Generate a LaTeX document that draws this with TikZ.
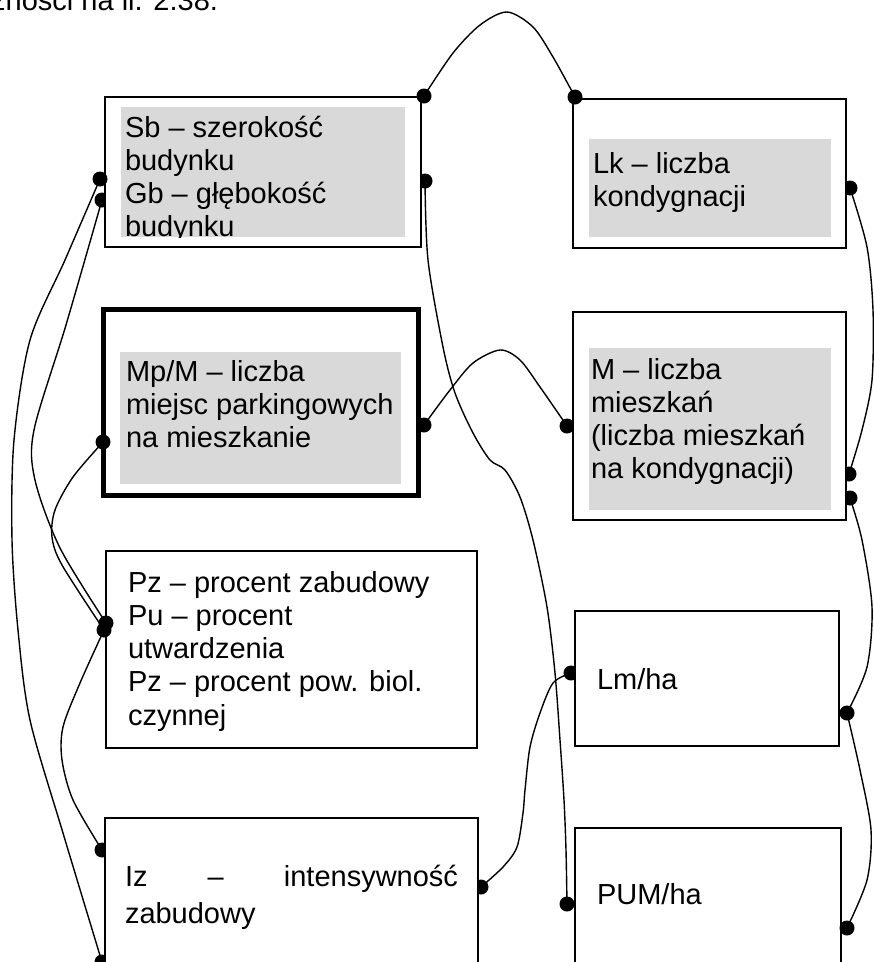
\documentclass[tikz,border=0pt]{standalone}
\usepackage{fontspec}
\setmainfont{Liberation Sans}
\definecolor{shadegray}{HTML}{D9D9D9}
\begin{document}
\begin{tikzpicture}[x=1pt,y=-1pt,
  txt/.style={font=\fontsize{29}{33.3}\selectfont, inner sep=0pt, outer sep=0pt, anchor=base west},
  boxframe/.style={draw=black, line width=1.6pt, fill=white, inner sep=0pt, outer sep=0pt, anchor=north west},
  boldframe/.style={boxframe, line width=5pt},
  shade/.style={fill=shadegray, draw=none},
  link/.style={line width=1.4pt, line join=round},
  pin/.style={fill=black},
]
\useasboundingbox (0,0) rectangle (874,962);

% caption line cut off at the top edge
\node[txt, anchor=base east] (caption) at (218,10) {zależności na il. 2.38.};

% connector end points
\coordinate (sbTR) at (424,96);
\coordinate (sbR)  at (425,181);
\coordinate (sbL1) at (100,179);
\coordinate (sbL2) at (102,200);
\coordinate (lkTL) at (575,97);
\coordinate (lkR)  at (850,188);
\coordinate (mpL)  at (103,442);
\coordinate (mpR)  at (424,425);
\coordinate (mL)   at (567,426);
\coordinate (mR1)  at (849,474);
\coordinate (mR2)  at (850,498);
\coordinate (pzA)  at (106,623);
\coordinate (pzB)  at (104,630);
\coordinate (lmL)  at (571,673);
\coordinate (lmR)  at (847,713);
\coordinate (izL1) at (102,850);
\coordinate (izL2) at (102,962);
\coordinate (izR)  at (481,887);
\coordinate (pumL) at (567,904);
\coordinate (pumR) at (847,928);

% connectors
\draw[link] plot[smooth] coordinates {(sbTR) (453,53) (480,25) (507,12) (533,27) (553,57) (lkTL)};
\draw[link] plot[smooth] coordinates {(sbR) (428,260) (443,347) (455,393) (473,433) (490,460) (505,470) (520,497) (533,540) (547,607) (555,673) (560,740) (564,800) (566,850) (pumL)};
\draw[link] plot[smooth] coordinates {(mpR) (450,390) (473,363) (500,350) (520,360) (540,387) (mL)};
\draw[link] plot[smooth] coordinates {(lmL) (553,683) (540,713) (530,747) (525,790) (523,813) (517,847) (503,867) (izR)};
\draw[link] plot[smooth] coordinates {(lkR) (867,247) (873,310) (872,380) (862,430) (mR1)};
\draw[link] plot[smooth] coordinates {(mR2) (862,540) (872,607) (867,667) (lmR)};
\draw[link] plot[smooth] coordinates {(lmR) (860,770) (871,830) (867,880) (pumR)};
\draw[link] plot[smooth] coordinates {(sbL1) (65,260) (30,340) (14,440) (12,540) (18,630) (30,720) (63,833) (izL2)};
\draw[link] plot[smooth] coordinates {(sbL2) (66,325) (34,430) (35,480) (60,548) (pzA)};
\draw[link] plot[smooth] coordinates {(mpL) (73,477) (55,510) (52,537) (62,565) (pzB)};
\draw[link] plot[smooth] coordinates {(pzB) (80,683) (63,727) (62,760) (73,800) (izL1)};

% dots partly hidden behind the boxes
\foreach \p in {sbR,sbL2,lkR,mL,mR1,mR2,lmL,izL1,izL2,izR}
  \fill[pin] (\p) circle[radius=7.5pt];

% boxes
\node[boxframe, minimum width=316pt, minimum height=150pt] (sb) at (105,97) {};
\node[boxframe, minimum width=273pt, minimum height=149pt] (lk) at (573,99) {};
\node[boldframe, minimum width=315pt, minimum height=186pt] (mp) at (103.2,309.2) {};
\node[boxframe, minimum width=273pt, minimum height=208pt] (m) at (573,312) {};
\node[boxframe, minimum width=371pt, minimum height=197pt] (pz) at (106,551) {};
\node[boxframe, minimum width=264pt, minimum height=135pt] (lm) at (575,611) {};
\node[boxframe, minimum width=373pt, minimum height=180pt] (iz) at (105,818) {};
\node[boxframe, minimum width=266pt, minimum height=170pt] (pum) at (575,828) {};

% shaded text fields
\fill[shade] (121,107) rectangle (405,237);
\fill[shade] (589,139) rectangle (831,237);
\fill[shade] (120,352) rectangle (401,484);
\fill[shade] (589,348) rectangle (831,510);

% labels
\begin{scope}
  \clip (121,107) rectangle (405,237);
  \node[txt] (sbtext) at (125,137) {\vtop{\hbox{Sb – szerokość}\hbox{budynku}\hbox{Gb – głębokość}\hbox{budynku}}};
\end{scope}
\node[txt] (lktext) at (593,173) {\vtop{\hbox{Lk – liczba}\hbox{kondygnacji}}};
\node[txt] (mptext) at (126,381) {\vtop{\hbox{Mp/M – liczba}\hbox{miejsc parkingowych}\hbox{na mieszkanie}}};
\node[txt] (mtext) at (591,379) {\vtop{\hbox{M – liczba}\hbox{mieszkań}\hbox{(liczba mieszkań}\hbox{na kondygnacji)}}};
\node[txt] (pztext) at (128,592) {\vtop{\hbox{Pz – procent zabudowy}\hbox{Pu – procent}\hbox{utwardzenia}\hbox{Pz – procent pow. biol.}\hbox{czynnej}}};
\node[txt] (lmtext) at (597,689) {Lm/ha};
\node[txt] (pumtext) at (597,904) {PUM/ha};
\node[txt] (iztext) at (125,886) {\hbox to 333pt{Iz\hfill–\hfill intensywność}};
\node[txt] (iztext2) at (125,923) {zabudowy};

% dots drawn over the frames
\foreach \p in {sbTR,sbL1,lkTL,mpL,mpR,pzA,pzB,lmR,pumL,pumR}
  \fill[pin] (\p) circle[radius=7.5pt];
\end{tikzpicture}
\end{document}
